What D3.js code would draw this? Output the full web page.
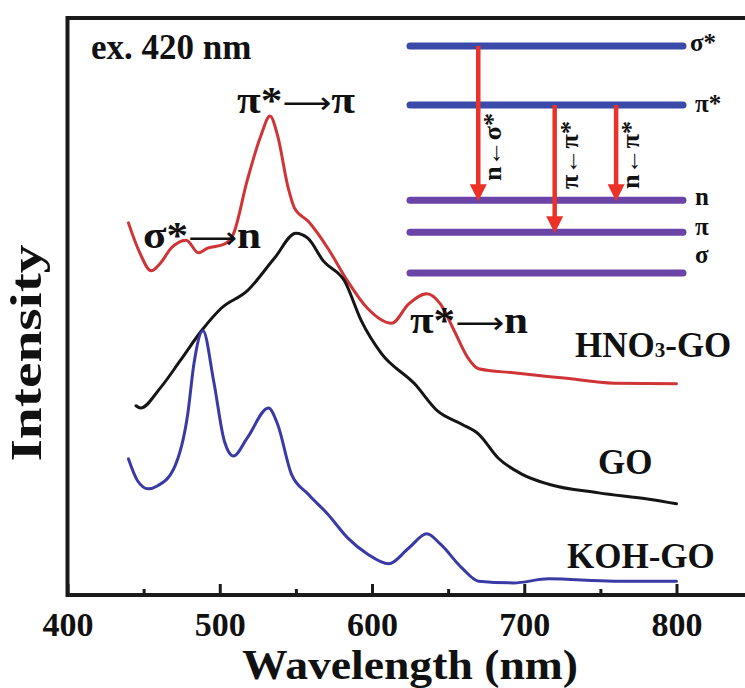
<!DOCTYPE html>
<html>
<head>
<meta charset="utf-8">
<script src="https://cdn.jsdelivr.net/npm/d3@7"></script>
<style>
  html, body { margin: 0; padding: 0; background: #fff; }
  svg { display: block; }
  text { font-family: "Liberation Serif", "Times New Roman", serif; font-weight: bold; fill: #111; }
</style>
</head>
<body>
<svg id="chart" width="745" height="688"></svg>
<script>
// Photoluminescence spectra (excitation 420 nm), intensity in arbitrary units
const hno3Wavelength = [440, 447, 455, 461, 468, 478, 486, 492, 503, 509, 518, 527, 533, 538, 545, 549, 558, 571, 584, 597, 613, 624, 636, 645, 654, 663, 670, 693, 726, 759, 800];
const hno3Intensity  = [64.5, 59.6, 56.2, 57.5, 60.1, 61.5, 59.3, 60.1, 60.8, 62.6, 71.8, 79.6, 83.0, 79.6, 70.5, 67.1, 64.8, 60.1, 54.4, 49.7, 47.1, 50.4, 52.2, 50.4, 45.8, 41.1, 39.2, 38.5, 37.6, 36.7, 36.6];

const goWavelength = [445, 448, 461, 474, 488, 501, 518, 536, 550, 558, 568, 582, 593, 606, 628, 643, 659, 670, 683, 698, 716, 749, 782, 800];
const goIntensity  = [32.8, 32.4, 35.9, 40.6, 45.8, 49.7, 52.7, 58.4, 62.7, 61.8, 57.9, 54.4, 47.5, 41.9, 36.6, 31.9, 29.6, 27.9, 23.7, 21.0, 19.2, 17.7, 16.6, 15.8];

const kohWavelength = [440, 446, 453, 459, 470, 479, 483, 489, 496, 503, 509, 518, 532, 538, 547, 558, 571, 584, 597, 611, 624, 636, 645, 659, 670, 693, 716, 759, 800];
const kohIntensity  = [23.6, 19.8, 18.4, 18.9, 22.0, 31.4, 40.0, 45.8, 37.1, 26.7, 24.1, 27.2, 32.4, 29.6, 21.0, 17.5, 14.0, 9.9, 7.1, 5.4, 8.1, 10.6, 8.8, 4.7, 2.4, 2.1, 2.8, 2.4, 2.4];

const seriesNames  = ["HNO3-GO", "GO", "KOH-GO"];
const seriesColors = ["#cf3436", "#151515", "#3a3aa6"];

const xTickValues      = [400, 500, 600, 700, 800];
const xMinorTickValues = [450, 550, 650, 750];

// Peak assignments written next to the HNO3-GO curve
const peakFrom = ["σ*", "π*", "π*"];
const peakTo   = ["n", "π", "n"];

// Energy-level scheme for the inset
const levelNames    = ["σ*", "π*", "n", "π", "σ"];
const levelEnergies = [1.0, 0.74, 0.32, 0.18, 0.0];
const transitionFrom   = ["σ*", "π*", "π*"];
const transitionTo     = ["n", "π", "n"];
const transitionLabels = ["n←σ*", "π←π*", "n←π*"];

const svg = d3.select("#chart");

const x = d3.scaleLinear().domain([400, 850]).range([67.5, 67.5 + 450 * 1.5225]);
const y = d3.scaleLinear().domain([0, 100]).range([595, 18]);

// Spectra
const series = [
  { name: seriesNames[0], color: seriesColors[0], pts: d3.zip(hno3Wavelength, hno3Intensity) },
  { name: seriesNames[1], color: seriesColors[1], pts: d3.zip(goWavelength, goIntensity) },
  { name: seriesNames[2], color: seriesColors[2], pts: d3.zip(kohWavelength, kohIntensity) }
];

const line = d3.line()
  .x(d => x(d[0]))
  .y(d => y(d[1]))
  .curve(d3.curveMonotoneX);

svg.append("g").selectAll("path")
  .data(series)
  .join("path")
  .attr("d", d => line(d.pts))
  .attr("fill", "none")
  .attr("stroke", d => d.color)
  .attr("stroke-width", 3)
  .attr("stroke-linejoin", "round")
  .attr("stroke-linecap", "round");

// Frame
svg.append("rect")
  .attr("x", x(400)).attr("y", y(100))
  .attr("width", x(850) - x(400)).attr("height", y(0) - y(100))
  .attr("fill", "none").attr("stroke", "#1a1a1a").attr("stroke-width", 4);

// Bottom axis: inward ticks
const axisMajor = d3.axisBottom(x).tickValues(xTickValues).tickSize(-11).tickFormat(d3.format("d"));
const axisMinor = d3.axisBottom(x).tickValues(xMinorTickValues).tickSize(-6).tickFormat("");

const gMajor = svg.append("g").attr("transform", `translate(0,${y(0)})`).call(axisMajor);
const gMinor = svg.append("g").attr("transform", `translate(0,${y(0)})`).call(axisMinor);
[gMajor, gMinor].forEach(g => {
  g.select(".domain").remove();
  g.selectAll(".tick line").attr("stroke", "#1a1a1a").attr("stroke-width", 3);
});
gMajor.selectAll(".tick text")
  .attr("y", 41).attr("dy", 0)
  .attr("font-size", 34)
  .attr("fill", "#111");

// Axis titles
svg.append("text")
  .attr("x", 410).attr("y", 679)
  .attr("text-anchor", "middle")
  .attr("font-size", 42)
  .attr("textLength", 336).attr("lengthAdjust", "spacingAndGlyphs")
  .text("Wavelength (nm)");

svg.append("text")
  .attr("transform", "translate(41,353) rotate(-90)")
  .attr("text-anchor", "middle")
  .attr("font-size", 44)
  .attr("textLength", 217).attr("lengthAdjust", "spacingAndGlyphs")
  .text("Intensity");

// Excitation note
svg.append("text").attr("x", 91).attr("y", 59).attr("font-size", 35).text("ex. 420 nm");

// Peak assignments
const peakPos = [[143, 248], [237, 113], [410, 333]];
const peakText = svg.append("g").selectAll("text")
  .data(peakFrom.map((f, i) => ({ from: f, to: peakTo[i], pos: peakPos[i] })))
  .join("text")
  .attr("x", d => d.pos[0])
  .attr("y", d => d.pos[1])
  .attr("font-size", 38)
  .attr("textLength", 118).attr("lengthAdjust", "spacingAndGlyphs");
peakText.append("tspan").text(d => d.from);
peakText.append("tspan")
  .attr("font-family", "DejaVu Sans, sans-serif")
  .attr("style", "font-family:'DejaVu Sans',sans-serif;font-weight:normal")
  .attr("font-size", 30)
  .text("⟶");
peakText.append("tspan").text(d => d.to);

// Series names
const nameLabel = svg.append("g");
const hno3Text = nameLabel.append("text").attr("x", 575).attr("y", 357).attr("font-size", 35);
hno3Text.append("tspan").text("HNO");
hno3Text.append("tspan").attr("font-size", 21).text("3");
hno3Text.append("tspan").text("-GO");
nameLabel.append("text").attr("x", 598).attr("y", 474).attr("font-size", 35).text(seriesNames[1]);
nameLabel.append("text").attr("x", 567).attr("y", 568).attr("font-size", 35).text(seriesNames[2]);

// Inset: energy-level diagram
const inset = svg.append("g");
const ey = d3.scaleLinear().domain([0, 1]).range([273, 46]);
const ix = d3.scaleLinear().domain([0, 1]).range([410, 683]);
const levelColor = name => (name.includes("*") ? "#3a4aa8" : "#6a44a6");
const levelOf = name => levelEnergies[levelNames.indexOf(name)];

inset.selectAll("line.level")
  .data(levelNames)
  .join("line")
  .attr("class", "level")
  .attr("x1", ix(0)).attr("x2", ix(1))
  .attr("y1", d => ey(levelOf(d))).attr("y2", d => ey(levelOf(d)))
  .attr("stroke", levelColor)
  .attr("stroke-width", 7)
  .attr("stroke-linecap", "round");

const levelLabelDy = { "σ*": 5, "π*": 7, "n": 5, "π": 3, "σ": -10 };
inset.selectAll("text.level")
  .data(levelNames)
  .join("text")
  .attr("class", "level")
  .attr("x", d => (d === "σ*" ? 690 : 695))
  .attr("y", d => ey(levelOf(d)) + levelLabelDy[d])
  .attr("font-size", 25)
  .text(d => d);

// Transition arrows
const transX = [0.25, 0.53, 0.755];
const labelBottom = [181, 189, 189];
const arrows = inset.selectAll("g.arrow")
  .data(transitionFrom.map((f, i) => ({ from: f, to: transitionTo[i], label: transitionLabels[i], pos: transX[i], bottom: labelBottom[i] })))
  .join("g").attr("class", "arrow");

const headLen = 17, headHalf = 8.5;
arrows.append("line")
  .attr("x1", d => ix(d.pos)).attr("x2", d => ix(d.pos))
  .attr("y1", d => ey(levelOf(d.from)))
  .attr("y2", d => ey(levelOf(d.to)) - headLen + 2)
  .attr("stroke", "#ec3228").attr("stroke-width", 4.5);

arrows.append("path")
  .attr("d", d => {
    const cx = ix(d.pos), tip = ey(levelOf(d.to)) + 1;
    return `M${cx - headHalf},${tip - headLen} L${cx + headHalf},${tip - headLen} L${cx},${tip} Z`;
  })
  .attr("fill", "#ec3228");

arrows.append("text")
  .attr("transform", d => `translate(${ix(d.pos) + 23},${d.bottom}) rotate(-90)`)
  .attr("font-size", 25)
  .attr("textLength", 68).attr("lengthAdjust", "spacingAndGlyphs")
  .text(d => d.label);
</script>
</body>
</html>
